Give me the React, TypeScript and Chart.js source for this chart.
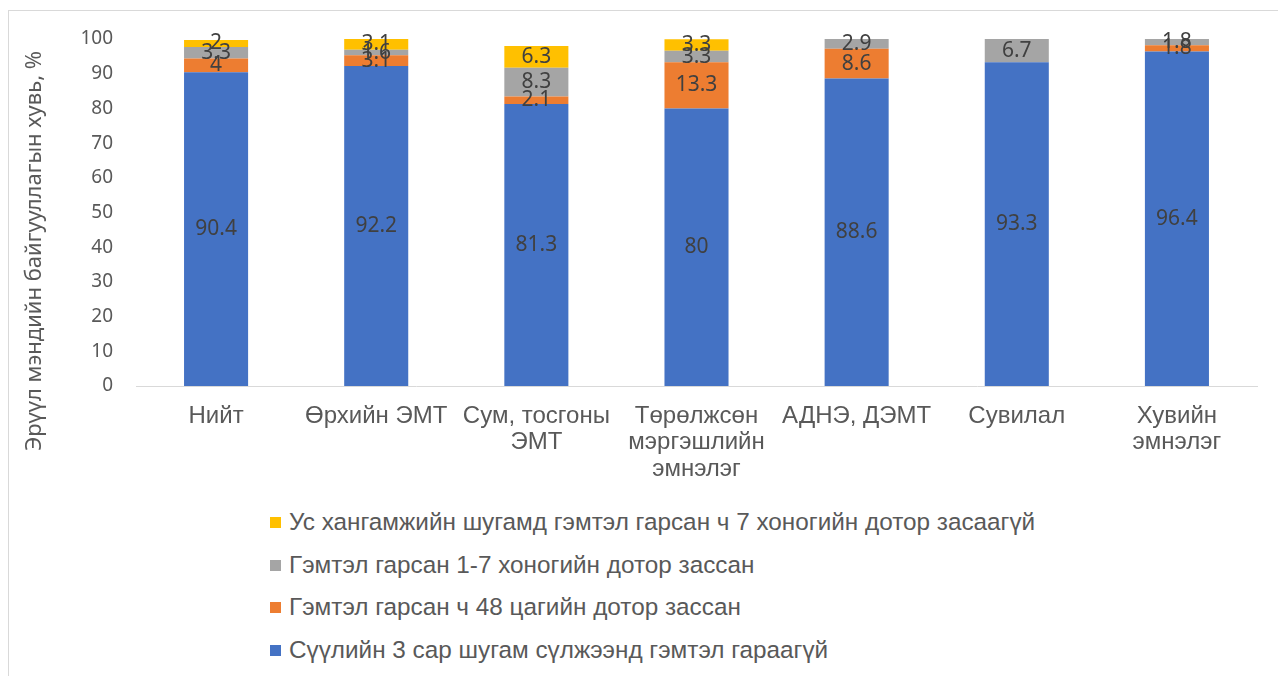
import React, { useEffect, useRef } from "react";
import { Chart, registerables } from "chart.js";

Chart.register(...registerables);

const categories: (string | string[])[] = [
  "Нийт",
  "Өрхийн ЭМТ",
  ["Сум, тосгоны", "ЭМТ"],
  ["Төрөлжсөн", "мэргэшлийн", "эмнэлэг"],
  "АДНЭ, ДЭМТ",
  "Сувилал",
  ["Хувийн", "эмнэлэг"],
];

const noDamage = [90.4, 92.2, 81.3, 80, 88.6, 93.3, 96.4];
const fixed48h = [4, 3.1, 2.1, 13.3, 8.6, 0, 1.8];
const fixed1to7 = [3.3, 1.6, 8.3, 3.3, 2.9, 6.7, 1.8];
const notFixed7d = [2, 3.1, 6.3, 3.3, 0, 0, 0];

const seriesNames = [
  "Сүүлийн 3 сар шугам сүлжээнд гэмтэл гараагүй",
  "Гэмтэл гарсан ч 48 цагийн дотор зассан",
  "Гэмтэл гарсан 1-7 хоногийн дотор зассан",
  "Ус хангамжийн шугамд гэмтэл гарсан ч 7 хоногийн дотор засаагүй",
];
const seriesColors = ["#4472C4", "#ED7D31", "#A5A5A5", "#FFC000"];

const yTitle = "Эрүүл мэндийн байгууллагын хувь, %";

const NUM_FONT = "'Noto Sans', sans-serif";
const TEXT_FONT = "'Liberation Sans', Arial, sans-serif";

// Writes each non-zero segment value in the middle of its bar piece
const segmentLabels = {
  id: "segmentLabels",
  afterDatasetsDraw(chart: Chart) {
    const { ctx } = chart;
    ctx.save();
    ctx.font = `21px ${NUM_FONT}`;
    ctx.fillStyle = "#404040";
    ctx.textAlign = "center";
    ctx.textBaseline = "middle";
    chart.data.datasets.forEach((ds, di) => {
      const meta = chart.getDatasetMeta(di);
      meta.data.forEach((el: any, i) => {
        const v = ds.data[i] as number;
        if (!v) return;
        const y = (el.y + el.base) / 2;
        ctx.fillText(String(v), el.x, y);
      });
    });
    ctx.restore();
  },
};

// Rotated y-axis caption
const axisCaption = {
  id: "axisCaption",
  afterDraw(chart: Chart) {
    const { ctx } = chart;
    ctx.save();
    ctx.translate(35, 251);
    ctx.rotate(-Math.PI / 2);
    ctx.font = `22px ${NUM_FONT}`;
    ctx.fillStyle = "#595959";
    ctx.textAlign = "center";
    ctx.textBaseline = "middle";
    ctx.fillText(yTitle, 0, 0);
    ctx.restore();
  },
};

export default function App() {
  const ref = useRef<HTMLCanvasElement>(null);

  useEffect(() => {
    if (!ref.current) return;
    const datasets = [noDamage, fixed48h, fixed1to7, notFixed7d].map((d, i) => ({
      label: seriesNames[i],
      data: d,
      backgroundColor: seriesColors[i],
      borderWidth: 0,
      barPercentage: 0.4,
      categoryPercentage: 1,
    }));
    const chart = new Chart(ref.current, {
      type: "bar",
      data: { labels: categories, datasets },
      options: {
        animation: false,
        responsive: false,
        maintainAspectRatio: false,
        layout: { padding: { top: 39, right: 21, bottom: 0, left: 0 } },
        plugins: { legend: { display: false }, tooltip: { enabled: false } },
        scales: {
          x: {
            stacked: true,
            grid: { display: false },
            border: { display: true, color: "#D9D9D9", width: 1 },
            ticks: {
              color: "#595959",
              font: { family: TEXT_FONT, size: 24, lineHeight: 1.1 },
              padding: 9,
              maxRotation: 0,
              autoSkip: false,
            },
            afterFit(scale: any) {
              scale.height = 114;
            },
          },
          y: {
            stacked: true,
            min: 0,
            max: 100,
            grid: { display: false, drawTicks: false },
            border: { display: false },
            ticks: {
              stepSize: 10,
              color: "#595959",
              font: { family: NUM_FONT, size: 19 },
              padding: 23,
            },
            afterFit(scale: any) {
              scale.width = 136;
            },
          },
        },
      },
      plugins: [segmentLabels, axisCaption],
    });
    return () => chart.destroy();
  }, []);

  const legendOrder = [3, 2, 1, 0];
  const rowTops = [522, 565, 607, 650];

  return (
    <div
      style={{
        position: "absolute",
        left: 0,
        top: 0,
        width: 1278,
        height: 676,
        overflow: "hidden",
        background: "#fff",
      }}
    >
      <div
        style={{
          position: "absolute",
          left: 8,
          top: 10,
          width: 1300,
          height: 700,
          border: "1px solid #D9D9D9",
          boxSizing: "border-box",
        }}
      />
      <canvas
        ref={ref}
        width={1278}
        height={500}
        style={{ position: "absolute", left: 0, top: 0, width: 1278, height: 500 }}
      />
      {legendOrder.map((si, r) => (
        <div
          key={si}
          style={{
            position: "absolute",
            left: 270,
            top: rowTops[r] - 15,
            height: 30,
            display: "flex",
            alignItems: "center",
            whiteSpace: "nowrap",
            fontFamily: TEXT_FONT,
            fontSize: 24.3,
            color: "#595959",
          }}
        >
          <span
            style={{
              display: "inline-block",
              width: 11,
              height: 11,
              background: seriesColors[si],
              marginRight: 8,
            }}
          />
          <span>{seriesNames[si]}</span>
        </div>
      ))}
    </div>
  );
}
